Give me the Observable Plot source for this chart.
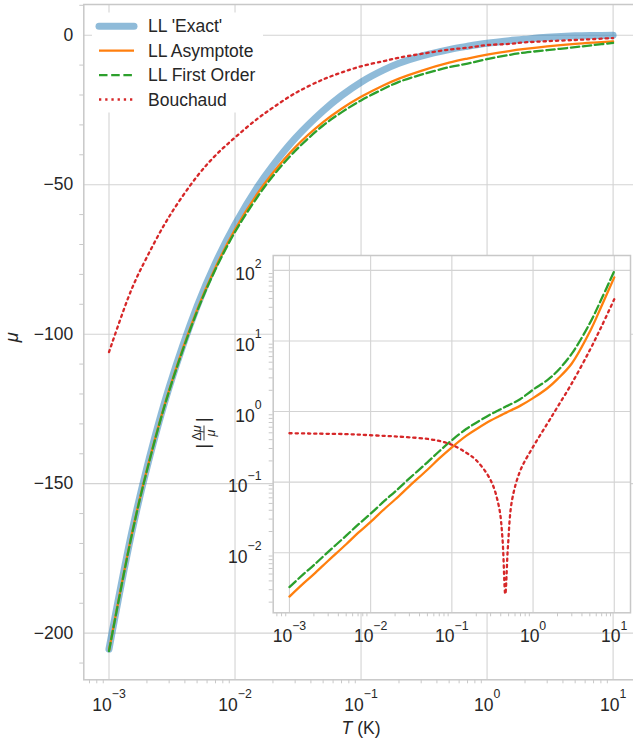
<!DOCTYPE html>
<html><head><meta charset="utf-8">
<script src="https://cdn.jsdelivr.net/npm/d3@7"></script>
<script src="https://cdn.jsdelivr.net/npm/@observablehq/plot@0.6"></script>
<style>
body{margin:0;background:#fff;}
#chart{position:relative;width:633px;height:742px;overflow:hidden;}
#chart svg{position:absolute;left:0;top:0;}
</style></head><body><div id="chart"></div>
<script>
// ---------- data ----------
const T = [0.001, 0.0015, 0.002, 0.003, 0.005, 0.007, 0.01, 0.015, 0.02, 0.03, 0.05, 0.07, 0.1, 0.15, 0.2, 0.3, 0.5, 0.7, 1, 1.5, 2, 3, 5, 7, 10];
const exact      = [-205.3, -167.2, -144.6, -117.8, -90.7, -76.2, -63.3, -50.9, -43.5, -34.5, -25.3, -20.2, -15.7, -11.7, -9.4, -7.0, -4.8, -3.7, -2.7, -1.85, -1.35, -0.72, -0.22, -0.09, -0.025];
const asymptote  = [-205.8, -167.8, -145.3, -118.7, -91.9, -77.7, -65.0, -53.1, -46.0, -37.5, -29.1, -24.6, -20.6, -16.8, -14.5, -11.9, -9.2, -7.8, -6.5, -5.3, -4.6, -3.75, -2.9, -2.46, -2.06];
const firstOrder = [-206.0, -168.1, -145.6, -119.0, -92.4, -78.3, -65.8, -54.2, -47.1, -38.7, -30.2, -25.8, -21.8, -18.0, -15.6, -13.2, -10.7, -9.5, -8.0, -6.6, -5.8, -5.0, -4.0, -3.3, -2.6];
const bouchaud   = [-106.0, -85.3, -74.2, -60.7, -47.2, -40.2, -34.2, -28.0, -24.2, -19.4, -14.8, -12.5, -10.4, -8.7, -7.5, -6.25, -4.8, -4.2, -3.3, -2.9, -2.4, -2.0, -1.6, -1.3, -0.95];

const insetT      = [0.001, 0.0015, 0.002, 0.003, 0.005, 0.007, 0.01, 0.015, 0.02, 0.03, 0.05, 0.07, 0.1, 0.15, 0.2, 0.3, 0.38, 0.42, 0.455, 0.49, 0.55, 0.7, 1, 1.5, 2, 3, 5, 7, 10];
const errAsym     = [0.0024, 0.00372, 0.00498, 0.00771, 0.0132, 0.0191, 0.0274, 0.0424, 0.0568, 0.0879, 0.150, 0.217, 0.312, 0.453, 0.562, 0.745, 0.857, 0.908, 0.951, 0.991, 1.057, 1.213, 1.55, 2.14, 2.88, 4.79, 13.5, 31.6, 79.4];
const errFirst    = [0.00327, 0.00502, 0.0067, 0.0103, 0.0175, 0.025, 0.0358, 0.0551, 0.0735, 0.113, 0.191, 0.274, 0.393, 0.565, 0.695, 0.914, 1.05, 1.112, 1.164, 1.213, 1.297, 1.507, 2.04, 2.79, 3.76, 6.61, 17.8, 39.8, 97.7];
const errBouchaud = [0.493, 0.49, 0.487, 0.484, 0.479, 0.472, 0.462, 0.452, 0.444, 0.432, 0.41, 0.383, 0.339, 0.262, 0.204, 0.107, 0.045, 0.016, 0.0026, 0.012, 0.055, 0.148, 0.316, 0.676, 1.16, 2.51, 7.41, 16.2, 39];

const seriesNames = ["LL 'Exact'", "LL Asymptote", "LL First Order", "Bouchaud"];
const mainXTicks = [1e-3, 1e-2, 1e-1, 1, 10];
const xTickLabels = ["10^−3", "10^−2", "10^−1", "10^0", "10^1"];
const mainYTicks = [0, -50, -100, -150, -200];
const mainYTickLabels = ["0", "−50", "−100", "−150", "−200"];
const insetYTicks = [1e-2, 1e-1, 1, 10, 100];
const insetYTickLabels = ["10^−2", "10^−1", "10^0", "10^1", "10^2"];
const xLabel = "T (K)";
const yLabel = "μ";

// ---------- styles ----------
const FONT = "'Liberation Sans', Arial, sans-serif";
const TXT = "#262626";
const FS = 17.5;
const GRID = "#d3d3d3";
const SPINE = "#c8c8c8";
const CURVE = "catmull-rom";
const styles = [
  {stroke: "#1f77b4", strokeOpacity: 0.5, strokeWidth: 7, strokeLinecap: "round"},
  {stroke: "#ff7f0e", strokeWidth: 2.3},
  {stroke: "#2ca02c", strokeWidth: 2.3, strokeDasharray: "8.5,3.7"},
  {stroke: "#d62728", strokeWidth: 2.3, strokeDasharray: "2.3,3.9"}
];

const W = 633, H = 742;
const mainSeries = [exact, asymptote, firstOrder, bouchaud];
const mainRows = mainSeries.map(arr => T.map((t, i) => ({T: t, mu: arr[i]})));
const insetSeries = [errAsym, errFirst, errBouchaud];
const insetRows = insetSeries.map(arr => insetT.map((t, i) => ({T: t, e: arr[i]})));

function minorLog(lo, hi) {
  const out = [];
  for (let e = -5; e <= 3; e++) for (let k = 2; k <= 9; k++) {
    const v = k * Math.pow(10, e);
    if (v >= lo && v <= hi) out.push(v);
  }
  return out;
}
const mxDom = [Math.pow(10, -3.2), Math.pow(10, 1.2)];
const myDom = [-215.6, 10.27];
const minorX = minorLog(mxDom[0], mxDom[1]);
const minorY = d3.range(-210, 11, 10).filter(v => v % 50 !== 0);

// ---------- main plot ----------
const main = Plot.plot({
  width: W, height: H,
  marginLeft: 83.3, marginRight: -4.8, marginTop: 4, marginBottom: 62.7,
  style: {background: "white", fontFamily: FONT, fontSize: FS + "px", color: SPINE},
  x: {type: "log", domain: mxDom, ticks: minorX, tickSize: 4, tickFormat: () => "", label: null},
  y: {domain: myDom, ticks: minorY, tickSize: 4, tickFormat: () => "", label: null},
  marks: [
    Plot.ruleX(mainXTicks, {stroke: GRID, strokeWidth: 1.1}),
    Plot.ruleY(mainYTicks, {stroke: GRID, strokeWidth: 1.1}),
    Plot.frame({stroke: SPINE, strokeWidth: 1.5}),
    ...mainRows.map((rows, i) => Plot.line(rows, {x: "T", y: "mu", curve: CURVE, ...styles[i]})),
    Plot.text(mainXTicks, {x: d => d, text: (d, i) => xTickLabels[i], frameAnchor: "bottom", lineAnchor: "bottom", dy: 30.7, fill: TXT, fontSize: FS}),
    Plot.text(mainYTicks, {y: d => d, text: (d, i) => mainYTickLabels[i], frameAnchor: "left", textAnchor: "end", dx: -10.6, fill: TXT, fontSize: FS}),
    Plot.text([xLabel], {text: d => d, frameAnchor: "bottom", lineAnchor: "bottom", dy: 54, fill: TXT, fontSize: FS}),
    Plot.text([yLabel], {text: d => d, frameAnchor: "left", dx: -71.5, rotate: -90, fill: TXT, fontSize: 18.5, fontStyle: "italic"})
  ]
});

// ---------- inset ----------
const ixDom = [Math.pow(10, -3.2), Math.pow(10, 1.2)];
const iyDom = [Math.pow(10, -2.85), Math.pow(10, 2.21)];
const inset = Plot.plot({
  width: W, height: H,
  marginLeft: 272.7, marginRight: 3, marginTop: 255, marginBottom: 129.7,
  style: {background: "transparent", fontFamily: FONT, fontSize: FS + "px", color: SPINE},
  x: {type: "log", domain: ixDom, ticks: minorLog(ixDom[0], ixDom[1]), tickSize: 4, tickFormat: () => "", label: null},
  y: {type: "log", domain: iyDom, ticks: minorLog(iyDom[0], iyDom[1]), tickSize: 4, tickFormat: () => "", label: null},
  marks: [
    Plot.frame({fill: "white"}),
    Plot.ruleX(mainXTicks, {stroke: GRID, strokeWidth: 1.1}),
    Plot.ruleY(insetYTicks, {stroke: GRID, strokeWidth: 1.1}),
    ...insetRows.map((rows, i) => Plot.line(rows, {x: "T", y: "e", curve: CURVE, ...styles[i + 1]})),
    Plot.frame({stroke: SPINE, strokeWidth: 1.5}),
    Plot.text(mainXTicks, {x: d => d, text: (d, i) => xTickLabels[i], frameAnchor: "bottom", lineAnchor: "bottom", dy: 29.4, fill: TXT, fontSize: FS}),
    Plot.text(insetYTicks, {y: d => d, text: (d, i) => insetYTickLabels[i], frameAnchor: "left", textAnchor: "end", lineAnchor: "bottom", dx: -11.7, dy: 10, fill: TXT, fontSize: FS})
  ]
});

const chart = document.getElementById("chart");
chart.appendChild(main);
chart.appendChild(inset);

// ---------- superscripts / italic labels as real text ----------
[main, inset].forEach(svg => {
  d3.select(svg).selectAll("text").each(function() {
    const t = this.textContent;
    if (t.includes("^")) {
      const [base, exp] = t.split("^");
      const s = d3.select(this);
      s.text("");
      s.append("tspan").text(base);
      s.append("tspan").attr("dy", -12.5).attr("font-size", 12.3).text(exp);
    } else if (t === xLabel) {
      const s = d3.select(this);
      s.text("");
      s.append("tspan").attr("font-style", "italic").text("T");
      s.append("tspan").text(" (K)");
    }
  });
});

// ---------- legend ----------
const lg = d3.select(main).append("g").attr("font-family", FONT).attr("font-size", FS).attr("text-anchor", "start");
lg.append("rect").attr("x", 92).attr("y", 12.5).attr("width", 171).attr("height", 100).attr("fill", "white");
seriesNames.forEach((name, i) => {
  const base = 32.3 + i * 24.4;
  const st = styles[i];
  const ln = lg.append("line").attr("x1", 99).attr("x2", 134).attr("y1", base - 6).attr("y2", base - 6)
    .attr("stroke", st.stroke).attr("stroke-width", st.strokeWidth);
  if (st.strokeOpacity) ln.attr("stroke-opacity", st.strokeOpacity);
  if (st.strokeLinecap) ln.attr("stroke-linecap", st.strokeLinecap);
  if (st.strokeDasharray) ln.attr("stroke-dasharray", st.strokeDasharray);
  lg.append("text").attr("x", 148).attr("y", base).attr("text-anchor", "start").attr("fill", TXT).text(name);
});

// ---------- inset y label |Δμ/μ| ----------
const yl = d3.select(inset).append("g").attr("transform", "translate(204,433) rotate(-90)")
  .attr("fill", TXT).attr("font-family", FONT).attr("text-anchor", "middle");
yl.append("text").attr("x", -13.3).attr("y", 5).attr("font-size", 19).text("|");
yl.append("text").attr("x", 13.3).attr("y", 5).attr("font-size", 19).text("|");
const num = yl.append("text").attr("x", 0).attr("y", -3.5).attr("font-size", 12.5);
num.append("tspan").text("Δ");
num.append("tspan").attr("font-style", "italic").text("μ");
yl.append("line").attr("x1", -7.5).attr("x2", 7.5).attr("y1", 0).attr("y2", 0).attr("stroke", TXT).attr("stroke-width", 0.9);
yl.append("text").attr("x", 0).attr("y", 10.5).attr("font-size", 12.5).attr("font-style", "italic").text("μ");
</script></body></html>
